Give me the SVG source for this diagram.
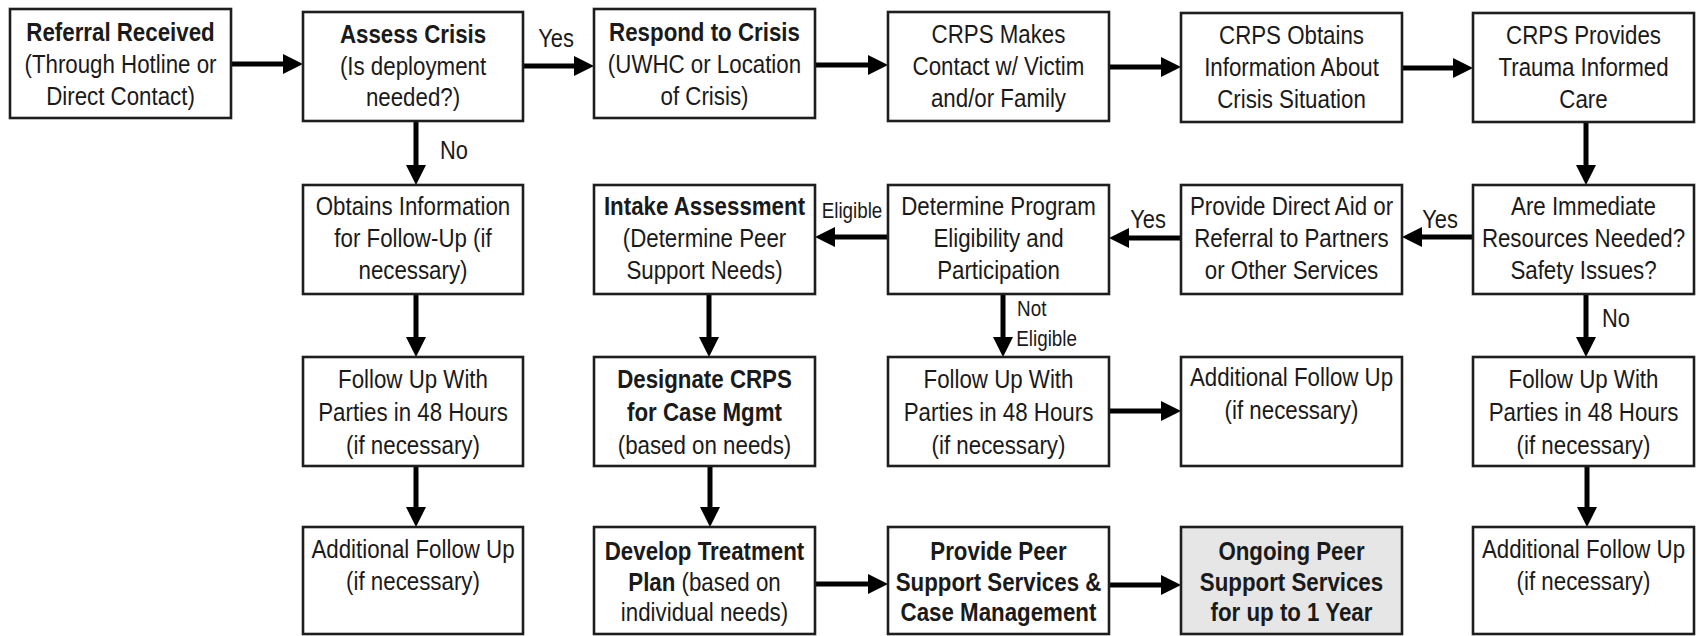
<svg xmlns="http://www.w3.org/2000/svg" width="1702" height="636" viewBox="0 0 1702 636">
<defs>
<marker id="ah" markerUnits="userSpaceOnUse" markerWidth="20" markerHeight="20" refX="8" refY="10" orient="auto">
<path d="M0,0 L20,10 L0,20 z" fill="#000"/>
</marker>
<style>
.box{fill:#fff;stroke:#1e1e1e;stroke-width:2.6}
.gray{fill:#e6e6e6}
.t,.lbl{font-family:"Liberation Sans",Arial,sans-serif;fill:#1a1a1a;transform-box:fill-box;transform-origin:center;transform:scaleX(0.875)}
.t{font-size:25.5px;text-anchor:middle}
.b{font-weight:bold}
.lbl{font-size:25px}
.sm{font-size:21.5px}
.ar{stroke:#000;stroke-width:5;fill:none;marker-end:url(#ah)}
</style>
</defs>
<rect width="1702" height="636" fill="#fff"/>

<g id="connectors">
<line class="ar" x1="231" y1="64" x2="291" y2="64"/>
<line class="ar" x1="523" y1="66" x2="582" y2="66"/>
<line class="ar" x1="815" y1="65" x2="876" y2="65"/>
<line class="ar" x1="1109" y1="67" x2="1169" y2="67"/>
<line class="ar" x1="1402" y1="68" x2="1461" y2="68"/>
<line class="ar" x1="416" y1="121" x2="416" y2="173"/>
<line class="ar" x1="1586" y1="122" x2="1586" y2="173"/>
<line class="ar" x1="1473" y1="237" x2="1414" y2="237"/>
<line class="ar" x1="1181" y1="238" x2="1121" y2="238"/>
<line class="ar" x1="888" y1="237" x2="827" y2="237"/>
<line class="ar" x1="1003" y1="294" x2="1003" y2="345"/>
<line class="ar" x1="1586" y1="294" x2="1586" y2="345"/>
<line class="ar" x1="416" y1="294" x2="416" y2="345"/>
<line class="ar" x1="709" y1="294" x2="709" y2="345"/>
<line class="ar" x1="1109" y1="411" x2="1169" y2="411"/>
<line class="ar" x1="416" y1="466" x2="416" y2="515"/>
<line class="ar" x1="710" y1="466" x2="710" y2="515"/>
<line class="ar" x1="1587" y1="466" x2="1587" y2="515"/>
<line class="ar" x1="815" y1="584" x2="876" y2="584"/>
<line class="ar" x1="1109" y1="585" x2="1169" y2="585"/>
<text class="lbl" x="556" y="47" text-anchor="middle">Yes</text>
<text class="lbl" x="454" y="159" text-anchor="middle">No</text>
<text class="lbl" x="1440" y="228" text-anchor="middle">Yes</text>
<text class="lbl" x="1148" y="228" text-anchor="middle">Yes</text>
<text class="lbl sm" x="852" y="218" text-anchor="middle">Eligible</text>
<text class="lbl sm" x="1015" y="316">Not</text>
<text class="lbl sm" x="1012" y="346">Eligible</text>
<text class="lbl" x="1616" y="327" text-anchor="middle">No</text>
</g>

<g id="n-referral">
<rect class="box" x="10" y="9" width="221" height="109"/>
<text class="t" x="120.5" y="41"><tspan class="b">Referral Received</tspan><tspan x="120.5" y="73">(Through Hotline or</tspan><tspan x="120.5" y="105">Direct Contact)</tspan></text>
</g>
<g id="n-assess">
<rect class="box" x="303" y="12" width="220" height="109"/>
<text class="t" x="413" y="43"><tspan class="b">Assess Crisis</tspan><tspan x="413" y="75">(Is deployment</tspan><tspan x="413" y="106">needed?)</tspan></text>
</g>
<g id="n-respond">
<rect class="box" x="594" y="9" width="221" height="109"/>
<text class="t" x="704.5" y="41"><tspan class="b">Respond to Crisis</tspan><tspan x="704.5" y="73">(UWHC or Location</tspan><tspan x="704.5" y="105">of Crisis)</tspan></text>
</g>
<g id="n-contact">
<rect class="box" x="888" y="12" width="221" height="109"/>
<text class="t" x="998.5" y="43"><tspan>CRPS Makes</tspan><tspan x="998.5" y="75">Contact w/ Victim</tspan><tspan x="998.5" y="107">and/or Family</tspan></text>
</g>
<g id="n-obtains">
<rect class="box" x="1181" y="13" width="221" height="109"/>
<text class="t" x="1291.5" y="44"><tspan>CRPS Obtains</tspan><tspan x="1291.5" y="76">Information About</tspan><tspan x="1291.5" y="108">Crisis Situation</tspan></text>
</g>
<g id="n-trauma">
<rect class="box" x="1473" y="13" width="221" height="109"/>
<text class="t" x="1583.5" y="44"><tspan>CRPS Provides</tspan><tspan x="1583.5" y="76">Trauma Informed</tspan><tspan x="1583.5" y="108">Care</tspan></text>
</g>

<g id="n-obtaininfo">
<rect class="box" x="303" y="185" width="220" height="109"/>
<text class="t" x="413" y="215"><tspan>Obtains Information</tspan><tspan x="413" y="247">for Follow-Up (if</tspan><tspan x="413" y="279">necessary)</tspan></text>
</g>
<g id="n-intake">
<rect class="box" x="594" y="185" width="221" height="109"/>
<text class="t" x="704.5" y="215"><tspan class="b">Intake Assessment</tspan><tspan x="704.5" y="247">(Determine Peer</tspan><tspan x="704.5" y="279">Support Needs)</tspan></text>
</g>
<g id="n-eligibility">
<rect class="box" x="888" y="185" width="221" height="109"/>
<text class="t" x="998.5" y="215"><tspan>Determine Program</tspan><tspan x="998.5" y="247">Eligibility and</tspan><tspan x="998.5" y="279">Participation</tspan></text>
</g>
<g id="n-directaid">
<rect class="box" x="1181" y="185" width="221" height="109"/>
<text class="t" x="1291.5" y="215"><tspan>Provide Direct Aid or</tspan><tspan x="1291.5" y="247">Referral to Partners</tspan><tspan x="1291.5" y="279">or Other Services</tspan></text>
</g>
<g id="n-resources">
<rect class="box" x="1473" y="185" width="221" height="109"/>
<text class="t" x="1583.5" y="215"><tspan>Are Immediate</tspan><tspan x="1583.5" y="247">Resources Needed?</tspan><tspan x="1583.5" y="279">Safety Issues?</tspan></text>
</g>

<g id="n-followup-left">
<rect class="box" x="303" y="357" width="220" height="109"/>
<text class="t" x="413" y="388"><tspan>Follow Up With</tspan><tspan x="413" y="421">Parties in 48 Hours</tspan><tspan x="413" y="454">(if necessary)</tspan></text>
</g>
<g id="n-designate">
<rect class="box" x="594" y="357" width="221" height="109"/>
<text class="t b" x="704.5" y="388"><tspan>Designate CRPS</tspan><tspan x="704.5" y="421">for Case Mgmt</tspan><tspan x="704.5" y="454" font-weight="normal">(based on needs)</tspan></text>
</g>
<g id="n-followup-mid">
<rect class="box" x="888" y="357" width="221" height="109"/>
<text class="t" x="998.5" y="388"><tspan>Follow Up With</tspan><tspan x="998.5" y="421">Parties in 48 Hours</tspan><tspan x="998.5" y="454">(if necessary)</tspan></text>
</g>
<g id="n-additional-mid">
<rect class="box" x="1181" y="357" width="221" height="109"/>
<text class="t" x="1291.5" y="386"><tspan>Additional Follow Up</tspan><tspan x="1291.5" y="419">(if necessary)</tspan></text>
</g>
<g id="n-followup-right">
<rect class="box" x="1473" y="357" width="221" height="109"/>
<text class="t" x="1583.5" y="388"><tspan>Follow Up With</tspan><tspan x="1583.5" y="421">Parties in 48 Hours</tspan><tspan x="1583.5" y="454">(if necessary)</tspan></text>
</g>

<g id="n-additional-left">
<rect class="box" x="303" y="527" width="220" height="107"/>
<text class="t" x="413" y="558"><tspan>Additional Follow Up</tspan><tspan x="413" y="590">(if necessary)</tspan></text>
</g>
<g id="n-treatment">
<rect class="box" x="594" y="527" width="221" height="107"/>
<text class="t" x="704.5" y="560"><tspan class="b">Develop Treatment</tspan><tspan x="704.5" y="591"><tspan class="b">Plan</tspan> (based on</tspan><tspan x="704.5" y="621">individual needs)</tspan></text>
</g>
<g id="n-peer">
<rect class="box" x="888" y="527" width="221" height="107"/>
<text class="t b" x="998.5" y="560"><tspan>Provide Peer</tspan><tspan x="998.5" y="591">Support Services &amp;</tspan><tspan x="998.5" y="621">Case Management</tspan></text>
</g>
<g id="n-ongoing">
<rect class="box gray" x="1181" y="527" width="221" height="107"/>
<text class="t b" x="1291.5" y="560"><tspan>Ongoing Peer</tspan><tspan x="1291.5" y="591">Support Services</tspan><tspan x="1291.5" y="621">for up to 1 Year</tspan></text>
</g>
<g id="n-additional-right">
<rect class="box" x="1473" y="527" width="221" height="107"/>
<text class="t" x="1583.5" y="558"><tspan>Additional Follow Up</tspan><tspan x="1583.5" y="590">(if necessary)</tspan></text>
</g>
</svg>
